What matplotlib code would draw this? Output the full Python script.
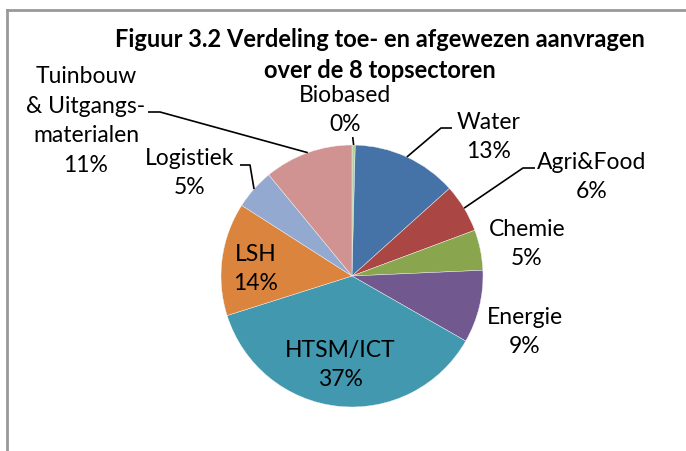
import matplotlib
matplotlib.use("Agg")
import matplotlib.pyplot as plt
import numpy as np
from matplotlib.lines import Line2D

plt.rcParams['font.family'] = ['Lato', 'DejaVu Sans']

# pie order, clockwise from 12 o'clock
sectors = ["Biobased", "Water", "Agri&Food", "Chemie", "Energie",
           "HTSM/ICT", "LSH", "Logistiek", "Tuinbouw\n& Uitgangs-\nmaterialen"]
shares = [0.4, 13, 6, 5, 9, 37, 14, 5, 11]
colors = ["#B9CD96", "#4572A7", "#AA4643", "#89A54E", "#71588F",
          "#4198AF", "#DB843D", "#93A9CF", "#D19392"]

title = "Figuur 3.2 Verdeling toe- en afgewezen aanvragen\nover de 8 topsectoren"

W, H = 686, 451
fig = plt.figure(figsize=(W / 100, H / 100), dpi=100)
ax = fig.add_axes([0, 0, 1, 1])

cx, cy, r = 352, H - 276, 131
wedges, _ = ax.pie(shares, colors=colors, startangle=90, counterclock=False,
                   center=(cx, cy), radius=r,
                   wedgeprops=dict(edgecolor="#f4f4f4", linewidth=0.3))
ax.set_xlim(0, W)
ax.set_ylim(0, H)
ax.set_aspect("auto")
ax.axis("off")

# label centre (pixels from top-left) and optional leader elbow
label_pos = {
    "Biobased": ((345, 110), [(352.7, 137)]),
    "Water": ((489, 137), [(452, 128), (441, 128)]),
    "Agri&Food": ((592, 177), [(535, 168), (523, 168)]),
    "Chemie": ((527, 244), None),
    "Energie": ((525, 332), None),
    "HTSM/ICT": ((340, 365), None),
    "LSH": ((256, 269), None),
    "Logistiek": ((190, 173), [(240, 165), (250, 165)]),
    "Tuinbouw\n& Uitgangs-\nmaterialen": ((86, 121), [(148, 112), (160, 112)]),
}

for w, name, val in zip(wedges, sectors, shares):
    (px, py), elbow = label_pos[name]
    ax.text(px, H - py, f"{name}\n{round(val):.0f}%", ha="center", va="center",
            fontsize=16.5, linespacing=1.5, color="black")
    if elbow:
        mid = np.deg2rad((w.theta1 + w.theta2) / 2)
        ex, ey = cx + r * np.cos(mid), cy + r * np.sin(mid)
        xs = [p[0] for p in elbow] + [ex]
        ys = [H - p[1] for p in elbow] + [ey]
        ax.plot(xs, ys, color="black", lw=1.2, solid_capstyle="butt")

ax.text(380, H - 55, title, ha="center", va="center", fontsize=17,
        fontweight="bold", linespacing=1.46)

# chart frame (cut off at right and bottom)
frame = dict(color="#999999", lw=2, transform=fig.transFigure)
fig.add_artist(Line2D([7 / W, 1], [1 - 10 / H, 1 - 10 / H], **frame))
fig.add_artist(Line2D([7 / W, 7 / W], [0, 1 - 10 / H], **frame))

fig.savefig("out.png", dpi=100, facecolor="white")
